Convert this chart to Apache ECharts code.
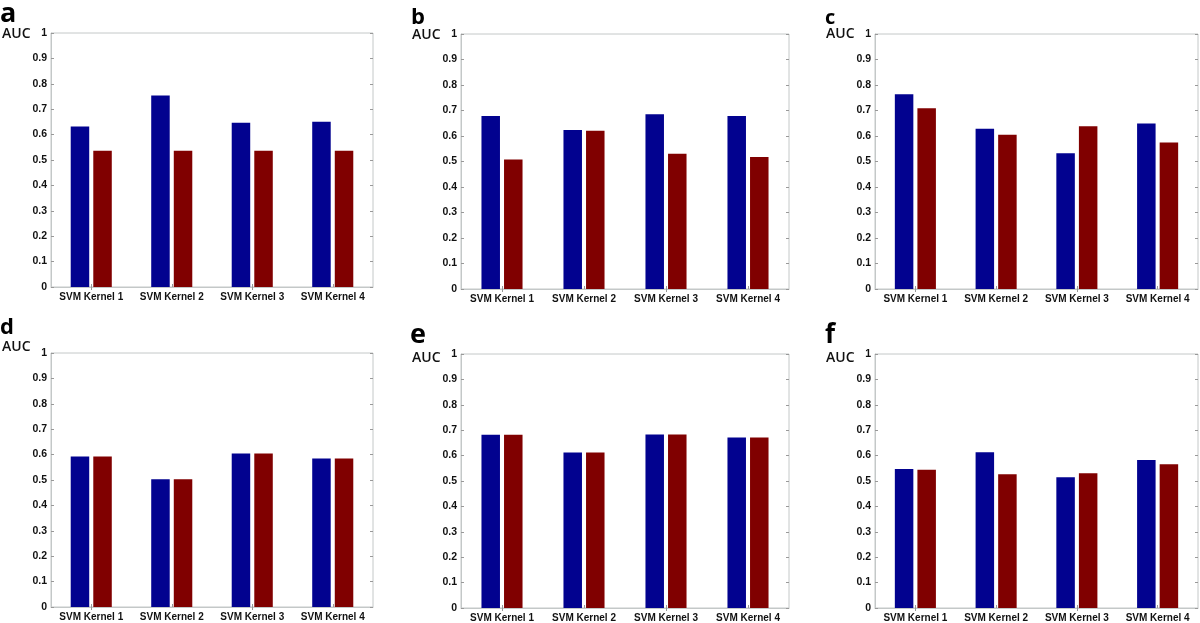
<!DOCTYPE html>
<html>
<head>
<meta charset="utf-8">
<script src="https://cdn.jsdelivr.net/npm/echarts@6/dist/echarts.min.js"></script>
<style>
html,body{margin:0;padding:0;background:#fff;}
#chart{width:1200px;height:623px;}
</style>
</head>
<body>
<div id="chart"></div>
<script>
// ---- data ----
const categories = ['SVM Kernel 1', 'SVM Kernel 2', 'SVM Kernel 3', 'SVM Kernel 4'];
const panelLetters = ['a', 'b', 'c', 'd', 'e', 'f'];
const yAxisName = 'AUC';
const yMin = 0, yMax = 1, yStep = 0.1;

const blueA = [0.632, 0.754, 0.647, 0.651];
const redA  = [0.536, 0.536, 0.536, 0.536];
const blueB = [0.678, 0.624, 0.685, 0.678];
const redB  = [0.508, 0.621, 0.530, 0.518];
const blueC = [0.764, 0.628, 0.532, 0.649];
const redC  = [0.709, 0.605, 0.638, 0.575];
const blueD = [0.593, 0.503, 0.604, 0.585];
const redD  = [0.593, 0.503, 0.604, 0.585];
const blueE = [0.682, 0.612, 0.683, 0.671];
const redE  = [0.682, 0.612, 0.683, 0.671];
const blueF = [0.547, 0.613, 0.515, 0.583];
const redF  = [0.544, 0.527, 0.531, 0.566];

const blueSeries = [blueA, blueB, blueC, blueD, blueE, blueF];
const redSeries  = [redA, redB, redC, redD, redE, redF];

// ---- layout / style ----
const grids = [
  {left: 51,  top: 33,  width: 322, height: 254},
  {left: 461, top: 34,  width: 328, height: 255},
  {left: 875, top: 34,  width: 323, height: 255},
  {left: 51,  top: 353, width: 322, height: 254},
  {left: 461, top: 354, width: 328, height: 254},
  {left: 875, top: 354, width: 323, height: 255}
];
const letterPos = [
  {x: 0,   y: 22,  size: 27},
  {x: 411, y: 24,  size: 22},
  {x: 825, y: 24,  size: 20},
  {x: 0,   y: 334, size: 22},
  {x: 410, y: 343, size: 27},
  {x: 825, y: 343, size: 26}
];
const aucPos = [
  {x: 2,   y: 34},
  {x: 412, y: 35},
  {x: 826, y: 34},
  {x: 2,   y: 347},
  {x: 412, y: 358},
  {x: 826, y: 358}
];
const BLUE = '#02028f';
const RED = '#800000';
const BORDER = '#c4c8c8';
const xLabelFont = {fontFamily: 'Liberation Sans', fontWeight: 'bold', fontSize: 10, color: '#111'};
const yLabelFont = {fontFamily: 'Liberation Sans', fontWeight: 'bold', fontSize: 10.5, color: '#111'};

const chart = echarts.init(document.getElementById('chart'));
const option = {
  animation: false,
  backgroundColor: '#fff',
  grid: [], xAxis: [], yAxis: [], series: [], graphic: []
};

grids.forEach((g, i) => {
  option.grid.push(Object.assign({show: true, borderColor: BORDER, borderWidth: 1, backgroundColor: '#fff', containLabel: false}, g));
  option.xAxis.push({
    type: 'category', gridIndex: i, data: categories, position: 'bottom',
    axisLine: {show: true, lineStyle: {color: BORDER}},
    axisTick: {show: true, inside: true, alignWithLabel: true, length: 3, lineStyle: {color: '#999'}},
    axisLabel: Object.assign({margin: 5, interval: 0}, xLabelFont),
    splitLine: {show: false}
  });
  option.xAxis.push({
    type: 'category', gridIndex: i, data: categories, position: 'top',
    axisLine: {show: false},
    axisTick: {show: true, inside: true, alignWithLabel: true, length: 3, lineStyle: {color: '#999'}},
    axisLabel: {show: false}, splitLine: {show: false}
  });
  option.yAxis.push({
    type: 'value', gridIndex: i, min: yMin, max: yMax, interval: yStep, position: 'left',
    axisLine: {show: true, lineStyle: {color: BORDER}},
    axisTick: {show: true, inside: true, length: 3, lineStyle: {color: '#999'}},
    axisLabel: Object.assign({margin: 4}, yLabelFont),
    splitLine: {show: false}
  });
  option.yAxis.push({
    type: 'value', gridIndex: i, min: yMin, max: yMax, interval: yStep, position: 'right',
    axisLine: {show: false},
    axisTick: {show: true, inside: true, length: 3, lineStyle: {color: '#999'}},
    axisLabel: {show: false}, splitLine: {show: false}
  });
  option.series.push({
    type: 'bar', xAxisIndex: 2 * i, yAxisIndex: 2 * i, data: blueSeries[i],
    barWidth: 18.5, barGap: '22%',
    itemStyle: {color: BLUE}
  });
  option.series.push({
    type: 'bar', xAxisIndex: 2 * i, yAxisIndex: 2 * i, data: redSeries[i],
    barWidth: 18.5, barGap: '22%',
    itemStyle: {color: RED}
  });
  const lp = letterPos[i];
  option.graphic.push({
    type: 'text', left: lp.x, top: lp.y - lp.size * 0.78,
    style: {text: panelLetters[i], font: 'bold ' + lp.size + 'px "Open Sans"', fill: '#000'}
  });
  const ap = aucPos[i];
  option.graphic.push({
    type: 'text', x: ap.x, y: ap.y,
    style: {text: yAxisName, font: '600 14px "Open Sans"', fill: '#111', verticalAlign: 'middle', align: 'left'}
  });
});

chart.setOption(option);
</script>
</body>
</html>
